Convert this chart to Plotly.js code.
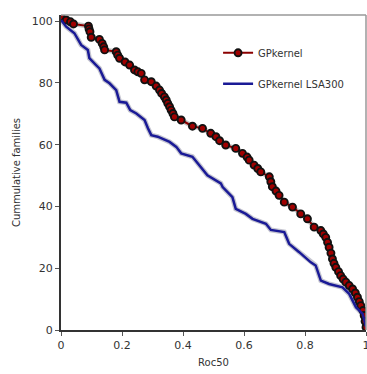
<!DOCTYPE html>
<html><head><meta charset="utf-8">
<script src="https://cdn.plot.ly/plotly-3.0.1.min.js"></script>
<style>body{margin:0;background:#fff}#c{width:367px;height:374px}</style>
</head><body><div id="c"></div>
<script>
const gpX = [0, 0.017, 0.031, 0.041, 0.09, 0.092, 0.095, 0.099, 0.126, 0.135, 0.14, 0.143, 0.181, 0.186, 0.192, 0.21, 0.225, 0.241, 0.252, 0.263, 0.274, 0.296, 0.312, 0.323, 0.33, 0.339, 0.345, 0.35, 0.356, 0.361, 0.367, 0.372, 0.394, 0.431, 0.464, 0.491, 0.508, 0.52, 0.54, 0.573, 0.595, 0.61, 0.617, 0.633, 0.645, 0.655, 0.683, 0.688, 0.693, 0.705, 0.715, 0.732, 0.759, 0.786, 0.808, 0.83, 0.852, 0.86, 0.868, 0.874, 0.879, 0.885, 0.89, 0.895, 0.901, 0.91, 0.917, 0.925, 0.934, 0.945, 0.956, 0.965, 0.972, 0.978, 0.983, 0.99, 0.994, 0.997, 1.0];
const gpY = [101.5, 100.4, 99.8, 99.1, 98.4, 97.5, 96.6, 94.8, 94.1, 92.8, 91.7, 90.7, 90.1, 89, 88, 86.8, 85.8, 84.2, 83.6, 83.1, 81, 80.4, 79, 77.7, 76.6, 75.5, 74.5, 73.4, 72.3, 71.2, 70.1, 69, 68, 66, 65.3, 63.7, 62.6, 61.3, 59.9, 58.8, 57.2, 56, 55, 53.4, 52.3, 51.2, 49.6, 48, 46.4, 45, 43.6, 41.4, 39.8, 37.6, 36, 33.3, 32.2, 31.1, 30, 28.4, 26.8, 24.9, 23, 21.6, 20.3, 18.9, 17.6, 16.5, 15.5, 14.4, 13.3, 12, 10.6, 9.2, 7.9, 6.3, 4.7, 2.8, 0.9];
const lsaX = [0, 0.017, 0.044, 0.066, 0.088, 0.093, 0.115, 0.126, 0.143, 0.159, 0.181, 0.192, 0.214, 0.222, 0.227, 0.247, 0.274, 0.285, 0.296, 0.317, 0.356, 0.378, 0.394, 0.431, 0.458, 0.48, 0.524, 0.53, 0.562, 0.573, 0.606, 0.628, 0.672, 0.688, 0.732, 0.748, 0.781, 0.819, 0.835, 0.852, 0.879, 0.923, 0.945, 0.967, 0.989, 1.0];
const lsaY = [100.4, 98.2, 96.1, 92.3, 90.7, 88, 85.8, 84.7, 81, 79.9, 77.7, 73.9, 73.6, 72.3, 71.2, 70.1, 68, 65.3, 63.1, 62.6, 60.9, 59.3, 57.2, 56.1, 52.8, 50.1, 47.5, 46.3, 43, 39.2, 37.6, 36, 34.4, 32.4, 31.7, 27.9, 25.2, 21.9, 20.9, 16, 14.9, 13.8, 11.7, 7.4, 5.2, 0.9];
const names = ['GPkernel', 'GPkernel LSA300'];
const xTicks = [0, 0.2, 0.4, 0.6, 0.8, 1];
const xTickText = ['0', '0.2', '0.4', '0.6', '0.8', '1'];
const yTicks = [0, 20, 40, 60, 80, 100];

const font = 'Verdana, "DejaVu Sans", sans-serif';
const traces = [
  {x: lsaX, y: lsaY, mode: 'lines', showlegend: false, hoverinfo: 'skip',
   line: {color: 'rgba(90,90,120,0.35)', width: 5}},
  {x: gpX, y: gpY, mode: 'lines', showlegend: false, hoverinfo: 'skip',
   line: {color: 'rgba(90,90,90,0.35)', width: 5}},
  {x: gpX, y: gpY, name: names[0], mode: 'lines+markers', legendgroup: 'a',
   line: {color: '#8b0000', width: 2},
   marker: {size: 7, color: '#a00000', line: {color: '#111', width: 1.9}}},
  {x: lsaX, y: lsaY, name: names[1], mode: 'lines', legendgroup: 'b',
   line: {color: '#1a1a96', width: 2.5}}
];
const layout = {
  width: 367, height: 374,
  margin: {l: 61, r: 1, t: 15, b: 44},
  paper_bgcolor: '#fff', plot_bgcolor: '#fff',
  font: {family: font, size: 11, color: '#333'},
  showlegend: true,
  legend: {x: 0.515, y: 0.926, xanchor: 'left', yanchor: 'top',
    bgcolor: 'rgba(0,0,0,0)', font: {size: 10, family: font, color: '#333'},
    tracegroupgap: 12, traceorder: 'grouped'},
  xaxis: {range: [0, 1], tickvals: xTicks, ticktext: xTickText,
    showgrid: false, zeroline: false, showline: true, linecolor: '#333', linewidth: 2,
    ticks: 'outside', ticklen: 4, tickcolor: '#555', ticklabeloverflow: 'allow',
    tickfont: {size: 11, family: font, color: '#333'},
    title: {text: 'Roc50', font: {size: 10, family: font, color: '#333'}, standoff: 8}},
  yaxis: {range: [0, 102], tickvals: yTicks,
    showgrid: false, zeroline: false, showline: true, linecolor: '#333', linewidth: 2,
    ticks: 'outside', ticklen: 4, tickcolor: '#555',
    tickfont: {size: 11, family: font, color: '#333'},
    title: {text: 'Cummulative families', font: {size: 10, family: font, color: '#333'}, standoff: 9}},
  shapes: [
    {type: 'line', xref: 'paper', yref: 'paper', x0: 0, x1: 1, y0: 1, y1: 1, line: {color: '#999', width: 1.5}},
    {type: 'line', xref: 'paper', yref: 'paper', x0: 1, x1: 1, y0: 0, y1: 1, line: {color: '#999', width: 1.5}}
  ]
};
Plotly.newPlot('c', traces, layout, {displayModeBar: false, staticPlot: true});
</script></body></html>
